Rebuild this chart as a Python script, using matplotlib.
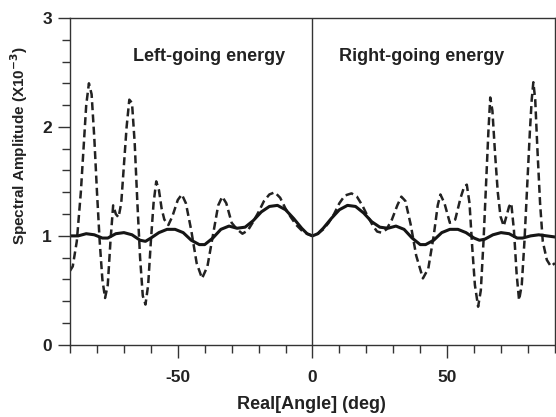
import matplotlib.pyplot as plt
from matplotlib.ticker import MultipleLocator

# ---------------- data ----------------
# dashed curve, left half (angle in deg, amplitude x1e-3)
dash_angle_left = [
    -90, -89, -87.5, -86, -85, -84, -83, -82,
    -81, -80, -79, -78, -77, -76, -75, -74,
    -73, -72, -71, -70, -69, -68, -67, -66,
    -65, -64, -63, -62, -61, -60, -59, -58,
    -57, -56, -55, -53.5, -52, -50, -48.5, -47,
    -45, -43, -41, -39, -37, -35, -33.5, -32,
    -30, -28, -26, -24, -22, -20, -18, -16,
    -14, -12, -10, -8, -6, -4, -2, 0,
]
dash_amp_left = [
    0.68, 0.72, 0.95, 1.40, 1.80, 2.20, 2.40, 2.30,
    1.90, 1.40, 0.95, 0.60, 0.43, 0.55, 0.95, 1.28,
    1.20, 1.17, 1.30, 1.65, 2.00, 2.25, 2.22, 1.85,
    1.30, 0.80, 0.45, 0.37, 0.55, 0.95, 1.30, 1.50,
    1.42, 1.25, 1.15, 1.10, 1.18, 1.33, 1.38, 1.30,
    1.05, 0.75, 0.61, 0.72, 1.00, 1.28, 1.36, 1.30,
    1.12, 1.06, 1.02, 1.05, 1.13, 1.22, 1.32, 1.38,
    1.40, 1.35, 1.25, 1.17, 1.10, 1.05, 1.02, 1.00,
]
# dashed curve, right half
dash_angle_right = [
    2, 4, 6, 8, 10, 12, 14.5, 16.5,
    18.5, 20.5, 22.5, 24, 25.5, 27.5, 29.5, 31.5,
    33, 34.5, 36.5, 38.5, 41, 43, 45, 46.5,
    47.5, 49, 51, 53, 55, 56.3, 57.3, 58.3,
    59.3, 60.3, 61.5, 62.5, 63.5, 64.5, 65.3, 66,
    66.8, 67.8, 68.8, 69.8, 71, 72, 73, 73.8,
    74.8, 75.8, 76.7, 77.7, 78.7, 79.7, 80.7, 81.4,
    82, 82.7, 83.5, 84.5, 85.5, 87, 88.5, 90,
]
dash_amp_right = [
    1.02, 1.06, 1.12, 1.20, 1.30, 1.37, 1.39, 1.36,
    1.28, 1.18, 1.09, 1.04, 1.03, 1.06, 1.15, 1.28,
    1.36, 1.32, 1.10, 0.82, 0.61, 0.70, 1.00, 1.28,
    1.38, 1.30, 1.12, 1.15, 1.35, 1.45, 1.47, 1.30,
    0.90, 0.55, 0.35, 0.50, 0.95, 1.50, 1.95, 2.27,
    2.15, 1.75, 1.40, 1.18, 1.09, 1.18, 1.27, 1.30,
    1.05, 0.65, 0.41, 0.55, 0.95, 1.45, 1.95, 2.25,
    2.41, 2.25, 1.80, 1.30, 0.95, 0.78, 0.72, 0.75,
]

# solid curve
solid_angle = [
    -90, -87, -84, -81, -78, -76, -73, -70, -67, -64, -62, -60, -57, -54,
    -51, -48, -45, -42, -40, -37, -34, -31, -28, -25, -22, -19, -16, -13,
    -10, -7, -4, -2, 0,
    2, 4, 7, 10, 13, 16, 19, 22, 25, 28, 31, 34, 37, 40, 42, 45, 48, 51,
    54, 57, 60, 62, 64, 67, 70, 73, 76, 78, 81, 84, 87, 90,
]
solid_amp = [
    1.00, 1.00, 1.02, 1.01, 0.98, 0.98, 1.02, 1.03, 1.01, 0.96, 0.95, 0.98,
    1.03, 1.06, 1.06, 1.03, 0.96, 0.92, 0.92, 0.98, 1.06, 1.09, 1.07, 1.08,
    1.14, 1.22, 1.27, 1.28, 1.24, 1.16, 1.07, 1.02, 1.00,
    1.02, 1.07, 1.16, 1.24, 1.28, 1.27, 1.21, 1.13, 1.08, 1.07, 1.09, 1.06,
    0.98, 0.92, 0.92, 0.96, 1.03, 1.06, 1.06, 1.03, 0.98, 0.96, 0.97, 1.01,
    1.03, 1.02, 0.98, 0.98, 1.00, 1.01, 1.00, 0.99,
]

x_ticks = [-50, 0, 50]
y_ticks = [0, 1, 2, 3]

FONT = "Liberation Sans"
INK = "#222222"

# ---------------- plot ----------------
plt.rcParams["font.family"] = FONT
plt.rcParams["font.weight"] = "bold"
plt.rcParams["axes.labelweight"] = "bold"
plt.rcParams["mathtext.default"] = "bf"
plt.rcParams["axes.unicode_minus"] = False  # plain hyphen like the original

fig = plt.figure(figsize=(5.56, 4.17), dpi=100)
ax = fig.add_axes([0.126, 0.173, 0.872, 0.784])

dash_angle = dash_angle_left + dash_angle_right
dash_amp = dash_amp_left + dash_amp_right
ax.plot(dash_angle, dash_amp, color=INK, lw=1.8, dashes=(3.2, 1.7))
ax.plot(solid_angle, solid_amp, color="#151515", lw=2.2)
ax.axvline(0, color="#333333", lw=1.0)

ax.set_xlim(-90, 90)
ax.set_ylim(0, 3)
ax.set_xticks(x_ticks)
ax.set_yticks(y_ticks)
ax.xaxis.set_minor_locator(MultipleLocator(10))
ax.yaxis.set_minor_locator(MultipleLocator(0.2))
ax.tick_params(which="major", direction="out", length=9, width=1.0,
               labelsize=12.5, color="#333333", labelcolor=INK)
ax.tick_params(which="minor", direction="out", length=5.5, width=1.0,
               color="#333333")
ax.tick_params(axis="y", pad=4)
ax.tick_params(axis="x", pad=9)

for s in ax.spines.values():
    s.set_linewidth(1.0)
    s.set_color("#333333")

ax.text(-38.4, 2.65, "Left-going energy", ha="center", va="center",
        fontsize=13, color=INK)
ax.text(40.4, 2.65, "Right-going energy", ha="center", va="center",
        fontsize=13, color=INK)

ax.set_xlabel("Real[Angle] (deg)", fontsize=13, fontweight="bold", color=INK)
ax.xaxis.set_label_coords(0.498, -0.157)
ax.set_ylabel("Spectral Amplitude (X10$^{-3}$)", fontsize=11,
              fontweight="bold", color=INK)
ax.yaxis.set_label_coords(-0.082, 0.61)

fig.savefig("out.png", dpi=100)
plt.close(fig)
